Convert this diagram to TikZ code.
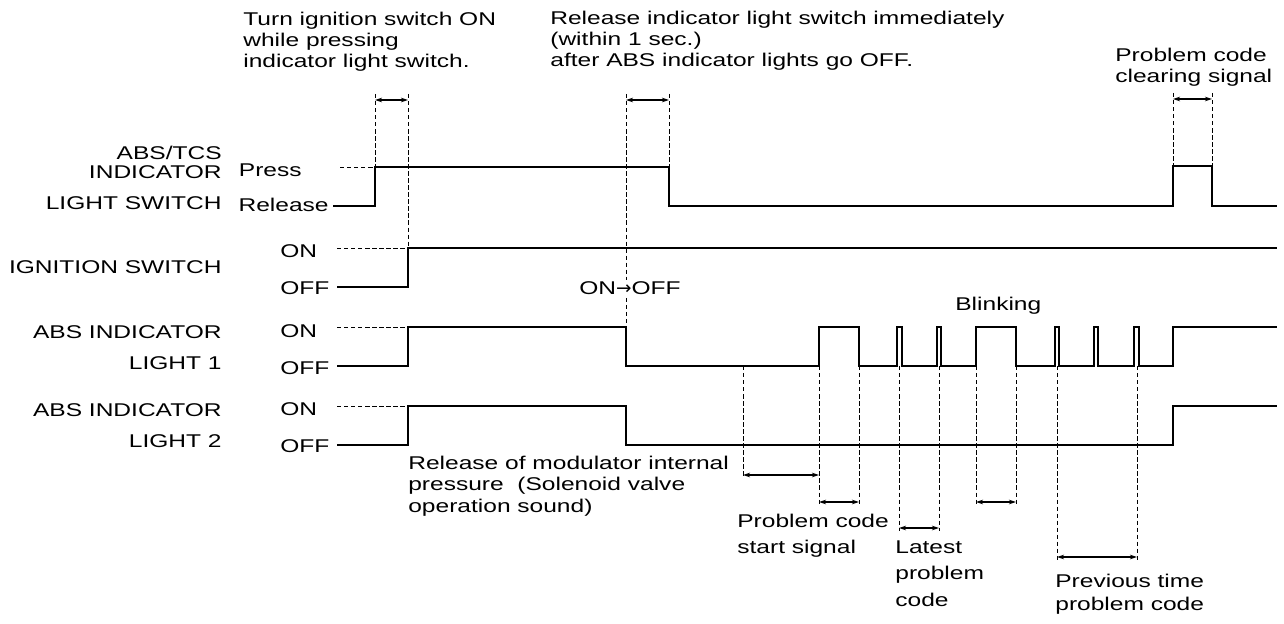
\documentclass[tikz,border=0pt]{standalone}
\usepackage{fontspec}
\setmainfont{Liberation Sans}[FakeStretch=1.33]
\newfontfamily\arrowfont{DejaVu Sans}
\usetikzlibrary{arrows.meta}

\newcommand{\lblfont}[1]{\fontsize{10.5}{#1}\selectfont}

\begin{document}
\begin{tikzpicture}[
    x=0.02cm, y=-0.02cm,
    txt/.style={font=\lblfont{12pt}, inner sep=0pt, align=left, anchor=north west},
    sig/.style={font=\lblfont{17.6pt}, inner sep=0pt, align=right, anchor=north east},
    lvl/.style={font=\lblfont{12pt}, inner sep=0pt},
    wave/.style={line width=1.2pt, line join=miter},
    ext/.style={line width=0.5pt, dash pattern=on 2.5pt off 1.5pt},
    dim/.style={{Stealth[length=4pt,width=2.6pt]}-{Stealth[length=4pt,width=2.6pt]}, line width=0.6pt}
]
\useasboundingbox (0,0) rectangle (1284,624);

\node[txt] (turnTxt) at (243,12) {Turn ignition switch ON\\while pressing\\indicator light switch.};
\node[txt] (relTxt) at (550,11) {Release indicator light switch immediately\\(within 1 sec.)\\after ABS indicator lights go OFF.};
\node[txt] (clrTxt) at (1115,48) {Problem code\\clearing signal};

\node[sig] (swLbl) at (222,145.5) {ABS/TCS\\[-6.8pt]INDICATOR\\LIGHT SWITCH};
\node[sig] (ignLbl) at (222,260.5) {IGNITION SWITCH};
\node[sig] (lt1Lbl) at (222,325.5) {ABS INDICATOR\\LIGHT 1};
\node[sig] (lt2Lbl) at (222,403.5) {ABS INDICATOR\\LIGHT 2};

\node[lvl, anchor=east] (pressLbl) at (302,170) {Press};
\node[lvl, anchor=east] (releaseLbl) at (329,205) {Release};
\node[lvl, anchor=west] (ignOn) at (280,251) {ON};
\node[lvl, anchor=west] (ignOff) at (280,288) {OFF};
\node[lvl, anchor=west] (lt1On) at (280,331) {ON};
\node[lvl, anchor=west] (lt1Off) at (280,368) {OFF};
\node[lvl, anchor=west] (lt2On) at (280,409) {ON};
\node[lvl, anchor=west] (lt2Off) at (280,446) {OFF};

\draw[ext] (340,167) -- (375,167);
\draw[ext] (337,248) -- (408,248);
\draw[ext] (337,327) -- (408,327);
\draw[ext] (337,406) -- (408,406);

\draw[wave] (333,206) -| (375,167) -| (669,206) -| (1173,166) -| (1212,206) -- (1277,206);
\draw[wave] (337,287) -| (408,248) -- (1277,248);
\draw[wave] (337,366) -| (408,327) -| (626,366) -| (819,327) -| (859,366)
    -| (897,327) -| (902,366) -| (937,327) -| (941,366) -| (976,327) -| (1016,366)
    -| (1055,327) -| (1059,366) -| (1094,327) -| (1098,366) -| (1134,327) -| (1139,366)
    -| (1173,327) -- (1277,327);
\draw[wave] (337,445) -| (408,406) -| (626,445) -| (1173,406) -- (1277,406);

\draw[ext] (375,94) -- (375,167);
\draw[ext] (408,94) -- (408,248);
\draw[ext] (626,94) -- (626,327);
\draw[ext] (669,94) -- (669,167);
\draw[ext] (1173,93) -- (1173,166);
\draw[ext] (1212,93) -- (1212,166);
\draw[dim] (375,100) -- (408,100);
\draw[dim] (626,100) -- (669,100);
\draw[dim] (1173,99) -- (1212,99);

\draw[ext] (743,366) -- (743,478);
\draw[ext] (819,366) -- (819,505);
\draw[ext] (859,366) -- (859,505);
\draw[ext] (899,366) -- (899,531);
\draw[ext] (939,366) -- (939,531);
\draw[ext] (976,366) -- (976,505);
\draw[ext] (1016,366) -- (1016,505);
\draw[ext] (1057,366) -- (1057,560);
\draw[ext] (1137,366) -- (1137,560);
\draw[dim] (743,475) -- (819,475);
\draw[dim] (819,502) -- (859,502);
\draw[dim] (899,528) -- (939,528);
\draw[dim] (976,502) -- (1016,502);
\draw[dim] (1057,557) -- (1137,557);

\node[lvl, fill=white, inner sep=1pt] (onoffTxt) at (630,288) {ON{\arrowfont→}OFF};
\node[lvl, anchor=base west] (blinkTxt) at (955,311) {Blinking};
\node[txt, font=\lblfont{12.2pt}] (modTxt) at (408,455.5) {Release of modulator internal\\pressure\ \ (Solenoid valve\\operation sound)};
\node[txt, font=\lblfont{14.5pt}] (startTxt) at (737,514) {Problem code\\start signal};
\node[txt, font=\lblfont{15.3pt}] (latestTxt) at (895,540) {Latest\\problem\\code};
\node[txt, font=\lblfont{13pt}] (prevTxt) at (1055,573.5) {Previous time\\problem code};
\end{tikzpicture}
\end{document}
